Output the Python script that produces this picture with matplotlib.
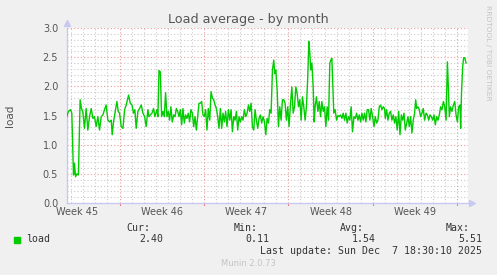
import numpy as np
import matplotlib
matplotlib.use("Agg")
import matplotlib.pyplot as plt

# ---- data (days relative to Sun Nov 2 00:00) ----
days = [-4.43, -4.24, -4.07, -3.96, -3.82, -3.74, -3.65, -3.54, -3.41, -3.27, -3.16, -3.05,
        -2.91, -2.77, -2.63, -2.49, -2.35, -2.21, -2.08, -1.94, -1.80, -1.66, -1.52, -1.38,
        -1.25, -1.11, -0.97, -0.83, -0.69, -0.61, -0.50, -0.36, -0.22, -0.11, 0.00, 0.14,
        0.28, 0.42, 0.55, 0.75, 0.89, 1.03, 1.16, 1.27, 1.38, 1.52, 1.66, 1.80, 1.94, 2.08,
        2.21, 2.35, 2.44, 2.55, 2.69, 2.82, 2.93, 3.10, 3.18, 3.27, 3.38, 3.49, 3.60, 3.71,
        3.82, 3.93, 4.04, 4.15, 4.26, 4.37, 4.49, 4.60, 4.71, 4.82, 4.93, 5.04, 5.15, 5.26,
        5.37, 5.48, 5.59, 5.70, 5.81, 5.92, 6.04, 6.15, 6.26, 6.37, 6.48, 6.59, 6.70, 6.81,
        6.92, 7.03, 7.14, 7.25, 7.36, 7.48, 7.59, 7.70, 7.81, 7.92, 8.03, 8.14, 8.25, 8.36,
        8.47, 8.58, 8.69, 8.80, 8.91, 9.03, 9.14, 9.25, 9.36, 9.47, 9.58, 9.69, 9.80, 9.91,
        10.02, 10.13, 10.24, 10.35, 10.47, 10.58, 10.69, 10.80, 10.91, 11.02, 11.13, 11.24,
        11.35, 11.46, 11.57, 11.68, 11.79, 11.90, 12.02, 12.13, 12.24, 12.35, 12.46, 12.57,
        12.68, 12.79, 12.87, 12.96, 13.07, 13.18, 13.29, 13.40, 13.51, 13.62, 13.73, 13.84,
        13.95, 14.06, 14.18, 14.29, 14.40, 14.51, 14.62, 14.73, 14.84, 14.95, 15.06, 15.17,
        15.28, 15.39, 15.50, 15.61, 15.70, 15.78, 15.86, 15.95, 16.06, 16.14, 16.22, 16.33,
        16.45, 16.56, 16.67, 16.78, 16.89, 17.00, 17.11, 17.22, 17.33, 17.44, 17.52, 17.61,
        17.69, 17.77, 17.88, 18.00, 18.11, 18.22, 18.33, 18.44, 18.55, 18.66, 18.77, 18.88,
        18.99, 19.10, 19.21, 19.32, 19.44, 19.55, 19.66, 19.77, 19.88, 19.99, 20.10, 20.21,
        20.32, 20.43, 20.54, 20.65, 20.76, 20.87, 20.99, 21.10, 21.21, 21.32, 21.43, 21.54,
        21.65, 21.76, 21.87, 21.98, 22.04, 22.15, 22.26, 22.37, 22.48, 22.59, 22.70, 22.81,
        22.92, 23.03, 23.15, 23.26, 23.37, 23.48, 23.59, 23.70, 23.81, 23.92, 24.03, 24.14,
        24.25, 24.36, 24.47, 24.56, 24.64, 24.75, 24.86, 24.97, 25.08, 25.19, 25.30, 25.42,
        25.53, 25.64, 25.75, 25.86, 25.97, 26.08, 26.19, 26.30, 26.41, 26.52, 26.63, 26.74,
        26.86, 26.97, 27.08, 27.19, 27.27, 27.35, 27.46, 27.57, 27.69, 27.80, 27.91, 28.02,
        28.13, 28.24, 28.29, 28.36, 28.46, 28.54, 28.63, 28.74]

load = [1.45, 1.57, 1.60, 1.54, 0.48, 0.68, 0.45, 0.50, 0.48, 1.77, 1.62, 1.57,
        1.28, 1.62, 1.25, 1.48, 1.62, 1.45, 1.48, 1.31, 1.48, 1.25, 1.48, 1.51,
        1.60, 1.68, 1.42, 1.39, 1.42, 1.17, 1.39, 1.57, 1.74, 1.57, 1.54, 1.31,
        1.28, 1.60, 1.68, 1.85, 1.71, 1.68, 1.54, 1.60, 1.28, 1.57, 1.62, 1.68, 1.54, 1.48,
        1.31, 1.60, 1.48, 1.51, 1.54, 1.62, 1.48, 1.60, 1.48, 2.27, 2.25, 1.48, 1.57, 1.48,
        1.89, 1.48, 1.57, 1.42, 1.65, 1.39, 1.51, 1.48, 1.62, 1.57, 1.48, 1.60, 1.34, 1.62,
        1.37, 1.51, 1.45, 1.54, 1.39, 1.60, 1.54, 1.31, 1.48, 1.25, 1.48, 1.71, 1.71, 1.74,
        1.51, 1.48, 1.60, 1.25, 1.62, 1.42, 1.91, 1.80, 1.77, 1.68, 1.62, 1.48, 1.28, 1.62,
        1.28, 1.54, 1.39, 1.57, 1.31, 1.60, 1.42, 1.60, 1.22, 1.48, 1.42, 1.57, 1.25, 1.48,
        1.39, 1.48, 1.42, 1.60, 1.48, 1.54, 1.68, 1.57, 1.71, 1.31, 1.25, 1.60,
        1.42, 1.28, 1.45, 1.51, 1.37, 1.48, 1.39, 1.17, 1.45, 1.37, 1.60, 1.54,
        2.28, 2.45, 2.22, 2.28, 1.94, 1.31, 1.65, 1.42, 1.77, 1.77, 1.71, 1.42,
        1.65, 1.31, 1.71, 1.99, 1.54, 1.65, 1.99, 1.88, 1.65, 1.77, 1.42, 1.82,
        1.65, 1.42, 1.65, 2.17, 2.77, 2.57, 2.28, 2.40, 1.99, 1.39, 1.65, 1.82,
        1.57, 1.74, 1.48, 1.74, 1.57, 1.65, 1.31, 1.65, 1.42, 2.40, 2.45, 2.48,
        1.99, 1.54, 1.60, 1.42, 1.50, 1.48, 1.51, 1.45, 1.54, 1.42, 1.54, 1.37,
        1.48, 1.42, 1.65, 1.22, 1.48, 1.45, 1.54, 1.42, 1.51, 1.39, 1.54, 1.42,
        1.54, 1.39, 1.60, 1.60, 1.42, 1.62, 1.48, 1.31, 1.48, 1.37, 1.42, 1.65,
        1.68, 1.60, 1.65, 1.62, 1.45, 1.60, 1.42, 1.54, 1.57, 1.42,
        1.51, 1.37, 1.48, 1.25, 1.57, 1.17, 1.51, 1.42, 1.54, 1.25, 1.37, 1.48,
        1.31, 1.48, 1.20, 1.42, 1.54, 1.77, 1.62, 1.65, 1.60, 1.48, 1.54, 1.62,
        1.42, 1.54, 1.51, 1.42, 1.51, 1.48, 1.42, 1.51, 1.34, 1.48, 1.42, 1.51,
        1.65, 1.60, 1.74, 1.65, 1.42, 2.42, 1.99, 1.48, 1.65, 1.57, 1.68, 1.74,
        1.51, 1.39, 1.65, 1.68, 1.28, 1.88, 2.34, 2.49, 2.49, 2.40]

week_label_pos = [-3.5, 3.5, 10.5, 17.5, 24.5]
week_labels = ["Week 45", "Week 46", "Week 47", "Week 48", "Week 49"]
week_lines = [0, 7, 14, 21, 28]
y_ticks = [0.0, 0.5, 1.0, 1.5, 2.0, 2.5, 3.0]
x_min, x_max = -4.40, 28.90

stats_names = ["Cur:", "Min:", "Avg:", "Max:"]
stats_values = ["2.40", "0.11", "1.54", "5.51"]
series_name = "load"
title = "Load average - by month"
last_update = "Last update: Sun Dec  7 18:30:10 2025"

# ---- figure ----
W, H = 497, 275
fig = plt.figure(figsize=(W / 100, H / 100), dpi=100)
fig.patch.set_facecolor("#F0F0F0")
L, R, T, B = 66.5, 468, 28, 203
ax = fig.add_axes([L / W, 1 - B / H, (R - L) / W, (B - T) / H])
ax.set_facecolor("white")
ax.set_xlim(x_min, x_max)
ax.set_ylim(0, 3.0)

minor_col = "#CACACA"
major_col = "#EE9999"
ls_dot = (0, (1, 2))
for d in np.arange(np.ceil(x_min), x_max, 1.0):
    if d not in week_lines:
        ax.axvline(d, color=minor_col, lw=0.8, ls=ls_dot, zorder=1)
for d in week_lines:
    ax.axvline(d, color=major_col, lw=0.8, ls=ls_dot, zorder=1.5)
for v in np.arange(0.1, 3.01, 0.1):
    if abs(v * 2 - round(v * 2)) > 1e-6:
        ax.axhline(v, color=minor_col, lw=0.8, ls=ls_dot, zorder=1)
for v in y_ticks[1:]:
    ax.axhline(v, color=major_col, lw=0.8, ls=ls_dot, zorder=1.5)

ax.plot(days, load, color="#00CC00", lw=1.0, zorder=3)

for s in ["top", "right"]:
    ax.spines[s].set_visible(False)
for s in ["left", "bottom"]:
    ax.spines[s].set_color("#C8C8F0")
    ax.spines[s].set_linewidth(1.0)
# arrows
ax.plot([0], [1.03], marker="^", color="#C8C8F0", ms=5, transform=ax.transAxes, clip_on=False)
ax.plot([1.01], [0], marker=">", color="#C8C8F0", ms=5, transform=ax.transAxes, clip_on=False)

ax.set_yticks(y_ticks)
ax.set_yticklabels([f"{v:.1f}" for v in y_ticks])
ax.set_xticks(week_label_pos)
ax.set_xticklabels(week_labels)
ax.tick_params(axis="both", labelsize=7, colors="#555555", length=0, pad=4)
ax.tick_params(axis="y", pad=6)
ax.tick_params(axis="x", pad=3)
for d in week_lines:
    ax.plot([d, d], [0, -0.04], color="#F08080", lw=0.8, clip_on=False)

fig.text(248 / W, 1 - 19 / H, title, ha="center", va="center", fontsize=9.2, color="#555555")
fig.text(10 / W, 1 - 115.5 / H, series_name, rotation=90, ha="center", va="center",
         fontsize=7.5, color="#555555")
fig.text(488 / W, 1 - 53 / H, "RRDTOOL / TOBI OETIKER", rotation=270, ha="center",
         va="center", fontsize=5.4, color="#C4C4C4")

mono = "DejaVu Sans Mono"
fs = 7.1
tc = "#333333"
fig.patches.append(plt.Rectangle((14 / W, 1 - 242.5 / H), 6 / W, 6 / H,
                                 transform=fig.transFigure, color="#00CC00"))
fig.text(26.5 / W, 1 - 239.5 / H, series_name, family=mono, fontsize=fs, color=tc,
         ha="left", va="center")
name_right = [150.5, 257.5, 363.5, 470]
val_right = [163, 269.5, 376, 482]
for n, v, nr, vr in zip(stats_names, stats_values, name_right, val_right):
    fig.text(nr / W, 1 - 228 / H, n, family=mono, fontsize=fs, color=tc, ha="right", va="center")
    fig.text(vr / W, 1 - 239.5 / H, v, family=mono, fontsize=fs, color=tc, ha="right", va="center")
fig.text(482 / W, 1 - 251.5 / H, last_update, family=mono, fontsize=fs, color=tc,
         ha="right", va="center")
fig.text(248 / W, 1 - 264 / H, "Munin 2.0.73", ha="center", va="center", fontsize=6,
         color="#C4C4C4")

fig.savefig("out.png", dpi=100, facecolor=fig.get_facecolor())
